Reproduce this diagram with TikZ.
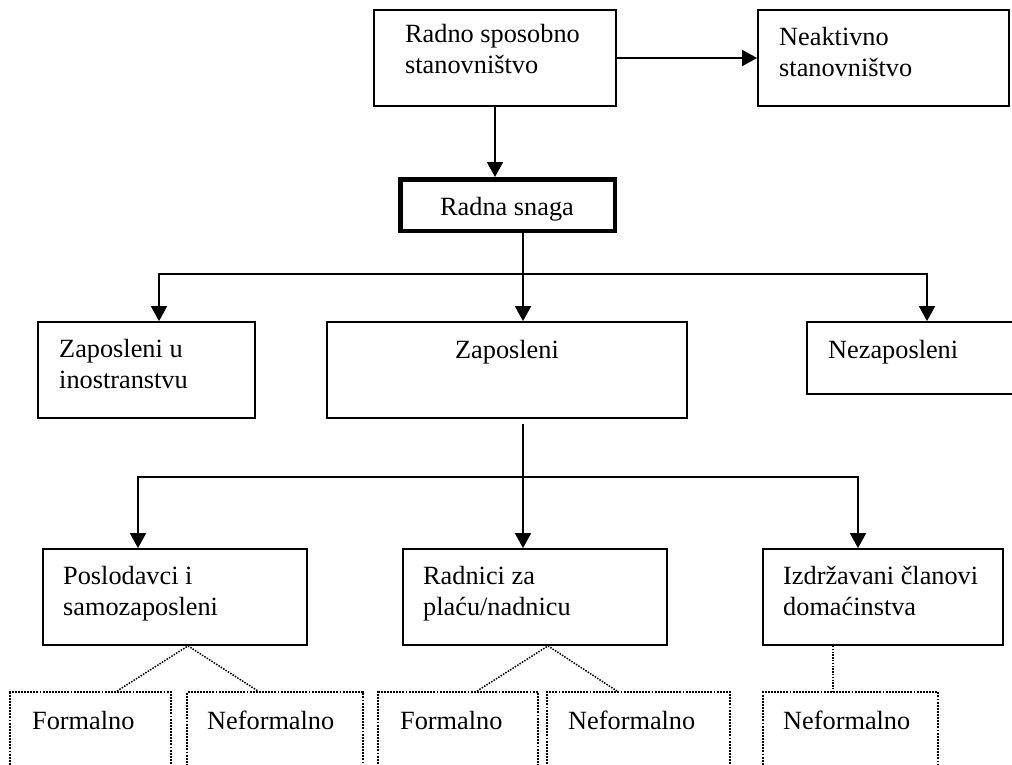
\documentclass[tikz,border=0pt]{standalone}
\usepackage{fontspec}
\setmainfont{Liberation Serif}
\usetikzlibrary{arrows.meta}

\newcommand\lfont{\fontsize{26.3}{30.5}\selectfont}

\tikzset{
  box/.style={draw, line width=1.8pt, inner sep=0pt},
  dbox/.style={draw, line width=1.9pt, dash pattern=on 1.9pt off 1.2pt, inner sep=0pt},
  lbl/.style={anchor=base west, inner sep=0pt, align=left, font=\lfont},
  conn/.style={line width=1.8pt, -{Triangle[width=16pt,length=15pt]}},
  dconn/.style={line width=1.5pt, dash pattern=on 1.5pt off 1.3pt}
}

\begin{document}
\begin{tikzpicture}[x=1pt,y=-1pt]
\useasboundingbox (0,0) rectangle (1012,764);
\clip (0,0) rectangle (1012,764);

% top
\node[box, minimum width=242pt, minimum height=96pt] (rs) at (495,58) {};
\node[box, minimum width=251pt, minimum height=96pt] (na) at (883.5,58) {};
\node[box, line width=4.5pt, minimum width=214.5pt, minimum height=51.5pt] (rsn) at (507.5,205) {};
% (base of a two-line label = its last line)
\node[lbl] (rs-t) at (405,73) {Radno sposobno\\stanovništvo};
\node[lbl] (na-t) at (779,76) {Neaktivno\\stanovništvo};
\node[lbl, anchor=base] (rsn-t) at (507,215) {Radna snaga};

% second row
\node[box, minimum width=217pt, minimum height=96pt] (zi) at (146.5,370) {};
\node[box, minimum width=360pt, minimum height=96pt] (zap) at (507,370) {};
\node[box, minimum width=240pt, minimum height=72pt] (nz) at (927,358) {};
\node[lbl] (zi-t) at (59,388) {Zaposleni u\\inostranstvu};
\node[lbl, anchor=base] (zap-t) at (507,358) {Zaposleni};
\node[lbl] (nz-t) at (828,358) {Nezaposleni};

% third row
\node[box, minimum width=264pt, minimum height=96pt] (pos) at (175,597) {};
\node[box, minimum width=264pt, minimum height=96pt] (rad) at (535,597) {};
\node[box, minimum width=240pt, minimum height=96pt] (izd) at (883,597) {};
\node[lbl] (pos-t) at (63,615) {Poslodavci i\\samozaposleni};
\node[lbl] (rad-t) at (423,615) {Radnici za\\plaću/nadnicu};
\node[lbl] (izd-t) at (783,615) {Izdržavani članovi\\domaćinstva};

% dotted row
\node[dbox, minimum width=161pt, minimum height=100pt] (f1) at (90.5,742) {};
\node[dbox, minimum width=176pt, minimum height=100pt] (n1) at (275,742) {};
\node[dbox, minimum width=160pt, minimum height=100pt] (f2) at (458,742) {};
\node[dbox, minimum width=183pt, minimum height=100pt] (n2) at (638.5,742) {};
\node[dbox, minimum width=175pt, minimum height=100pt] (n3) at (850.5,742) {};
\node[lbl] (f1-t) at (32,729) {Formalno};
\node[lbl] (n1-t) at (207,729) {Neformalno};
\node[lbl] (f2-t) at (400,729) {Formalno};
\node[lbl] (n2-t) at (568,729) {Neformalno};
\node[lbl] (n3-t) at (783,729) {Neformalno};

% arrows
\draw[conn] (rs.east) -- (na.west);
\draw[conn] (rs.south) -- (rs.south |- rsn.north);

\coordinate (j1) at (523,274);
\draw[line width=1.8pt] (rsn.south -| j1) -- (j1);
\draw[conn] (j1) -- (j1 |- zap.north);
\draw[conn] (j1) -| ([xshift=12.5pt]zi.north);
\draw[conn] (j1) -| (nz.north);

\coordinate (j2) at (523,477);
\draw[line width=1.8pt] ([yshift=-5pt]zap.south -| j2) -- (j2);
\draw[conn] (j2) -- (j2 |- rad.north);
\draw[conn] (j2) -| ([xshift=-37pt]pos.north);
\draw[conn] (j2) -| ([xshift=-25pt]izd.north);

% dotted links
\draw[dconn] ([xshift=26.5pt]f1.north) -- ([xshift=13pt]pos.south) -- ([xshift=-17pt]n1.north);
\draw[dconn] ([xshift=19pt]f2.north) -- ([xshift=13pt]rad.south) -- ([xshift=-21.5pt]n2.north);
\draw[dconn] ([xshift=-50pt]izd.south) -- ([xshift=-50pt]izd.south |- n3.north);

\end{tikzpicture}
\end{document}
